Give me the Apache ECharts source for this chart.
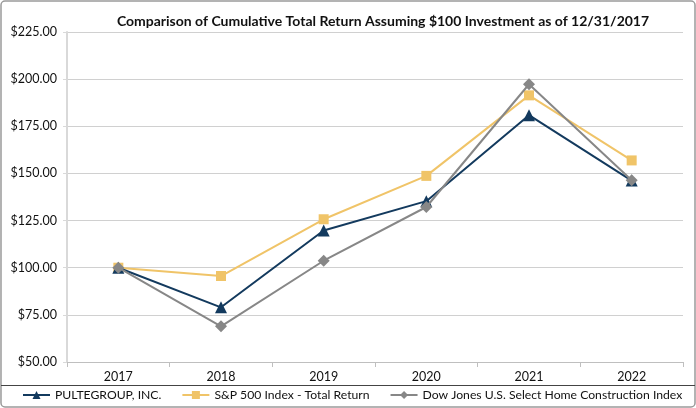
<!DOCTYPE html>
<html><head><meta charset="utf-8">
<script src="https://cdn.jsdelivr.net/npm/echarts@6/dist/echarts.min.js"></script>
<style>html,body{margin:0;padding:0;background:#fff}#c{width:696px;height:408px}</style>
</head><body><div id="c"></div>
<script>
const categories = ['2017','2018','2019','2020','2021','2022'];
const pulte = [100.00, 79.0, 119.7, 135.3, 180.9, 146.2];
const sp500 = [100.00, 95.6, 125.7, 148.7, 191.4, 156.9];
const dowJones = [100.00, 68.9, 103.7, 132.2, 197.3, 146.4];
const seriesNames = ['PULTEGROUP, INC.', 'S&P 500 Index - Total Return', 'Dow Jones U.S. Select Home Construction Index'];
const yTicks = {min: 50, max: 225, interval: 25};

const font = 'Lato, "Open Sans", sans-serif';
const chart = echarts.init(document.getElementById('c'));
chart.setOption({
  backgroundColor: '#fff',
  animation: false,
  textStyle: {fontFamily: font},
  title: {
    text: 'Comparison of Cumulative Total Return Assuming $100 Investment as of 12/31/2017',
    left: 378, top: 9, textAlign: 'center',
    textStyle: {fontFamily: font, fontSize: 14, fontWeight: 'bold', color: '#111'}
  },
  grid: {left: 67, right: 13, top: 32, bottom: 46},
  legend: {
    top: 389, left: 22, width: 672, padding: 0, itemGap: 20, itemWidth: 27, itemHeight: 10,
    textStyle: {fontFamily: font, fontSize: 12.2, color: '#111'},
    data: seriesNames
  },
  xAxis: {
    type: 'category', data: categories, boundaryGap: true,
    axisLine: {lineStyle: {color: '#bfbfbf', width: 1}},
    axisTick: {show: true, length: 5, lineStyle: {color: '#bfbfbf'}},
    axisLabel: {fontFamily: font, fontSize: 12.5, color: '#111', margin: 8}
  },
  yAxis: {
    type: 'value', min: yTicks.min, max: yTicks.max, interval: yTicks.interval,
    axisLine: {show: true, lineStyle: {color: '#d9d9d9', width: 2}},
    axisTick: {show: true, length: 4, lineStyle: {color: '#d9d9d9'}},
    splitLine: {lineStyle: {color: '#d0d0d0', width: 1}},
    axisLabel: {fontFamily: font, fontSize: 12.5, color: '#111', margin: 10,
      formatter: v => '$' + v.toFixed(2)}
  },
  graphic: [
    {type: 'rect', shape: {x: 1, y: 1, width: 694, height: 406, r: 4}, style: {fill: 'none', stroke: '#9a9a9a', lineWidth: 1.5}, z: 0},
    {type: 'line', shape: {x1: 1, y1: 385.5, x2: 695, y2: 385.5}, style: {stroke: '#444', lineWidth: 1}}
  ],
  series: [
    {name: seriesNames[0], type: 'line', data: pulte, z: 3,
      symbol: 'triangle', symbolSize: 12,
      lineStyle: {color: '#133a5e', width: 2}, itemStyle: {color: '#133a5e'}},
    {name: seriesNames[1], type: 'line', data: sp500, z: 2,
      symbol: 'rect', symbolSize: 10,
      lineStyle: {color: '#f0c468', width: 2}, itemStyle: {color: '#f0c468'}},
    {name: seriesNames[2], type: 'line', data: dowJones, z: 4,
      symbol: 'diamond', symbolSize: 12,
      lineStyle: {color: '#878787', width: 2}, itemStyle: {color: '#878787'}}
  ]
});
</script></body></html>
